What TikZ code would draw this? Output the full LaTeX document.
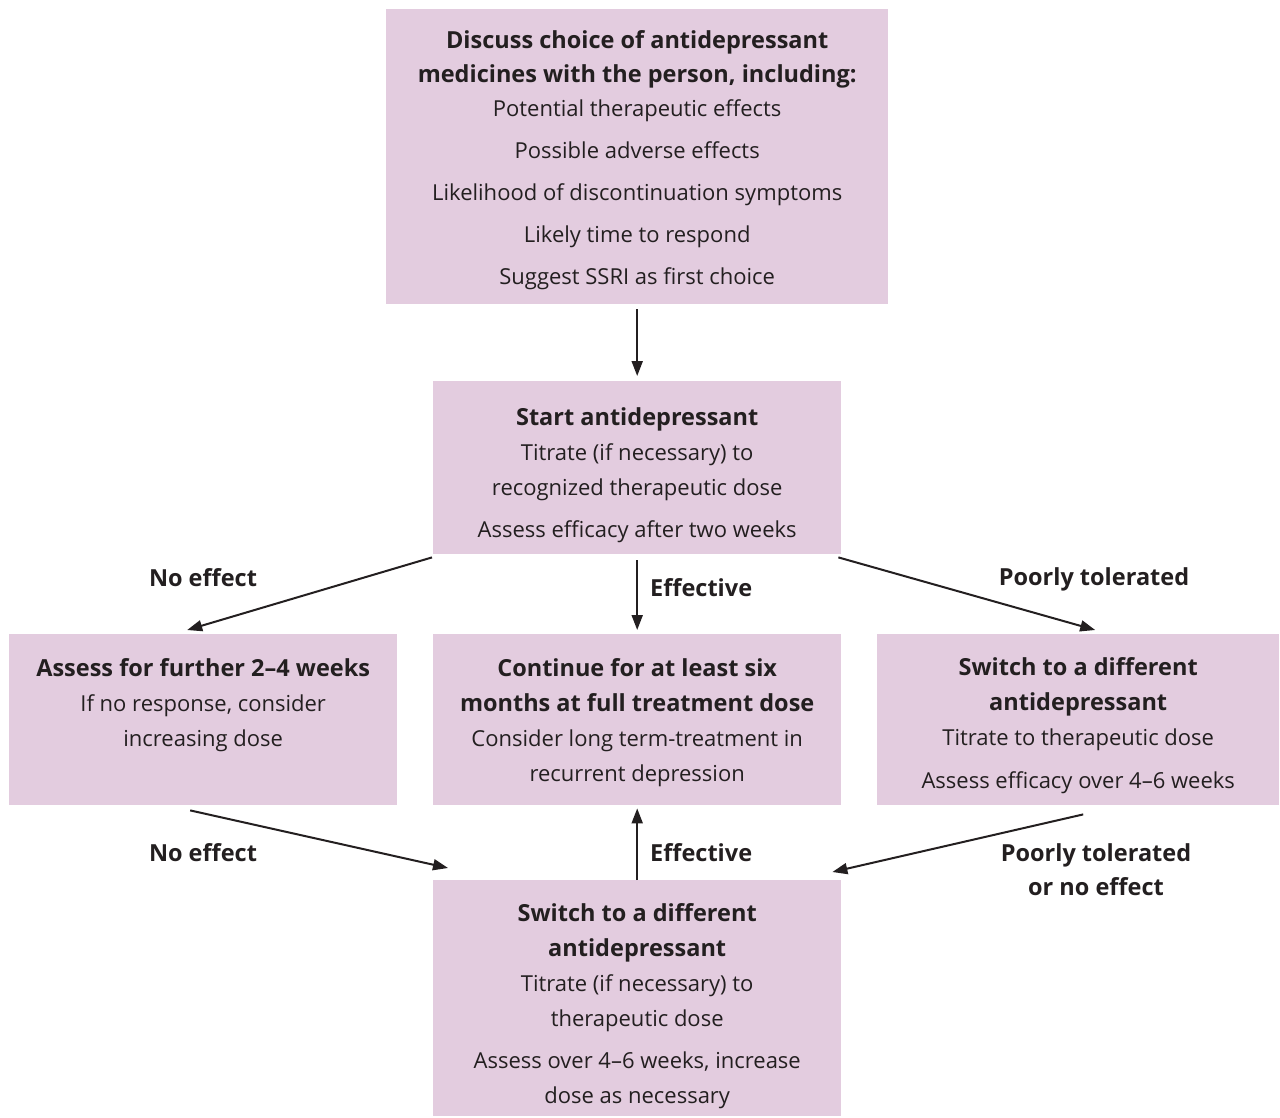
\documentclass[tikz,border=0pt]{standalone}
\usepackage{fontspec}
\setmainfont{Open Sans}
\usetikzlibrary{arrows.meta,calc}
\definecolor{boxfill}{HTML}{E3CCDF}
\definecolor{ink}{HTML}{231F20}
\newcommand{\hd}[1]{{\bfseries\fontsize{23.5}{35}\selectfont #1}}
\begin{document}
\begin{tikzpicture}[x=1pt,y=-1pt,
  box/.style={fill=boxfill, draw=none, inner sep=0pt, anchor=north west},
  txt/.style={inner sep=0pt, align=center, text=ink, font=\fontsize{22}{35}\selectfont},
  lbl/.style={text=ink, font=\bfseries\fontsize{23.5}{34}\selectfont, inner sep=0pt, align=center},
  arr/.style={draw=ink, line width=2pt, -{Triangle[length=15pt,width=11pt]}}]
\useasboundingbox (0,0) rectangle (1280,1117);
\node[box, minimum width=502pt, minimum height=295pt] (top) at (386,9) {};
\node[txt] (topT) at ($(top.center)+(0,3)$)
 {\hd{Discuss choice of antidepressant}\\[-1pt]
  \hd{medicines with the person, including:}\\[-1pt]
  Potential therapeutic effects\\[7pt]
  Possible adverse effects\\[7pt]
  Likelihood of discontinuation symptoms\\[7pt]
  Likely time to respond\\[7pt]
  Suggest SSRI as first choice};
\node[box, minimum width=408pt, minimum height=173pt] (start) at (433,381) {};
\node[txt] (startT) at ($(start.center)+(0,7.5)$)
 {\hd{Start antidepressant}\\
  Titrate (if necessary) to\\
  recognized therapeutic dose\\[7pt]
  Assess efficacy after two weeks};
\node[box, minimum width=388pt, minimum height=171pt] (left) at (9,634) {};
\node[txt] (leftT) at ($(left.center)+(0,-15)$)
 {\hd{Assess for further 2--4 weeks}\\
  If no response, consider\\
  increasing dose};
\node[box, minimum width=408pt, minimum height=171pt] (mid) at (433,634) {};
\node[txt] (midT) at ($(mid.center)+(0,3)$)
 {\hd{Continue for at least six}\\
  \hd{months at full treatment dose}\\
  Consider long term-treatment in\\
  recurrent depression};
\node[box, minimum width=402pt, minimum height=171pt] (right) at (877,634) {};
\node[txt] (rightT) at ($(right.center)+(0,6)$)
 {\hd{Switch to a different}\\
  \hd{antidepressant}\\
  Titrate to therapeutic dose\\[8pt]
  Assess efficacy over 4--6 weeks};
\node[box, minimum width=408pt, minimum height=236pt] (bot) at (433,880) {};
\node[txt] (botT) at ($(bot.center)+(0,8)$)
 {\hd{Switch to a different}\\
  \hd{antidepressant}\\
  Titrate (if necessary) to\\
  therapeutic dose\\[7pt]
  Assess over 4--6 weeks, increase\\
  dose as necessary};
% arrows
\draw[arr] ($(top.south)+(0,5)$) -- ($(start.north)+(0,-5)$);
\draw[arr] ($(start.south)+(0,6)$) -- ($(mid.north)+(0,-4)$);
\draw[arr] ($(start.south west)+(-1,3)$) -- ($(left.north)+(-16,-4)$);
\draw[arr] ($(start.south east)+(-3,3)$) -- ($(right.north)+(17,-4)$);
\draw[arr] ($(left.south)+(-13,5)$) -- ($(bot.north west)+(15,-12)$);
\draw[arr] (bot.north) -- ($(mid.south)+(0,3)$);
\draw[arr] ($(right.south)+(5,9)$) -- ($(bot.north east)+(-9,-8)$);
% labels
\node[lbl] (l1) at (203,578) {No effect};
\node[lbl, anchor=west] (l2) at (650,588) {Effective};
\node[lbl] (l3) at (1094,579) {Poorly tolerated};
\node[lbl] (l4) at (203,853) {No effect};
\node[lbl, anchor=west] (l5) at (650,853) {Effective};
\node[lbl] (l6) at (1096,870) {Poorly tolerated\\or no effect};
\end{tikzpicture}
\end{document}
